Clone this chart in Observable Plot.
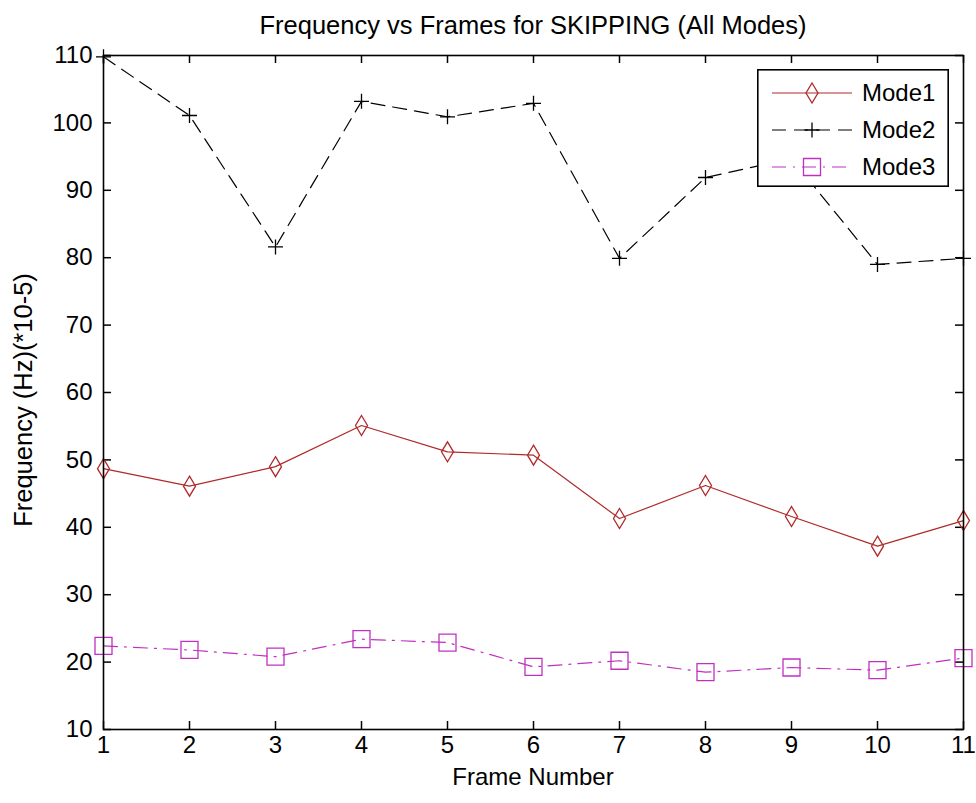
<!DOCTYPE html>
<html>
<head>
<meta charset="utf-8">
<script src="https://cdn.jsdelivr.net/npm/d3@7"></script>
<script src="https://cdn.jsdelivr.net/npm/@observablehq/plot@0.6"></script>
<style>
  body { margin: 0; background: #fff; }
  #wrap { position: relative; width: 976px; height: 803px; background: #fff;
          font-family: "Liberation Sans", Arial, sans-serif; color: #000; }
  #wrap > svg.chart { position: absolute; left: 0; top: 0; }
  .lbl { position: absolute; white-space: nowrap; font-size: 24px; line-height: 1; }
  #title { left: 533px; top: 13px; transform: translateX(-50%); font-size: 25.5px; }
  #xlabel { left: 533px; top: 765px; transform: translateX(-50%); }
  #ylabel { left: 24px; top: 400px; transform: translate(-50%, -50%) rotate(-90deg); font-size: 25.5px; }
  #wrap > svg#legend { position: absolute; left: 757px; top: 69px; }
</style>
</head>
<body>
<div id="wrap">
  <div id="title" class="lbl"></div>
  <div id="xlabel" class="lbl"></div>
  <div id="ylabel" class="lbl"></div>
</div>
<script>
// ---- data ----
const frames = [1, 2, 3, 4, 5, 6, 7, 8, 9, 10, 11];
const mode1 = [48.7, 46.1, 49.0, 55.1, 51.2, 50.7, 41.3, 46.2, 41.6, 37.2, 41.0];
const mode2 = [109.8, 101.1, 81.6, 103.2, 100.9, 102.9, 79.9, 91.9, 94.7, 79.0, 79.9];
const mode3 = [22.4, 21.8, 20.8, 23.4, 22.9, 19.3, 20.2, 18.5, 19.2, 18.8, 20.6];
const seriesNames = ["Mode1", "Mode2", "Mode3"];
const xTicks = [1, 2, 3, 4, 5, 6, 7, 8, 9, 10, 11];
const yTicks = [10, 20, 30, 40, 50, 60, 70, 80, 90, 100, 110];
const titleText = "Frequency vs Frames for SKIPPING (All Modes)";
const xLabelText = "Frame Number";
const yLabelText = "Frequency (Hz)(*10-5)";

// ---- layout & styles ----
const W = 976, H = 803, mT = 55, mB = 74, mL = 103, mR = 13;
const plotW = W - mL - mR, plotH = H - mT - mB, tickLen = 8;
const fontFam = '"Liberation Sans", Arial, sans-serif';
const colors = {Mode1: "#b02a2a", Mode2: "#000000", Mode3: "#c030c0"};
const dashes = {Mode1: null, Mode2: "14,8", Mode3: "14,7,2,7"};

const tallDiamond = {draw(ctx, size) { const r = Math.sqrt(size / Math.PI); const w = r * 0.6;
  ctx.moveTo(0, -r); ctx.lineTo(w, 0); ctx.lineTo(0, r); ctx.lineTo(-w, 0); ctx.closePath(); }};
const thinPlus = {draw(ctx, size) { const r = Math.sqrt(size / Math.PI);
  ctx.moveTo(-r, 0); ctx.lineTo(r, 0); ctx.moveTo(0, -r); ctx.lineTo(0, r); }};
const openSquare = {draw(ctx, size) { const r = Math.sqrt(size / Math.PI);
  ctx.moveTo(-r, -r); ctx.lineTo(r, -r); ctx.lineTo(r, r); ctx.lineTo(-r, r); ctx.closePath(); }};
const symbols = {Mode1: tallDiamond, Mode2: thinPlus, Mode3: openSquare};
const radii = {Mode1: 10, Mode2: 7.5, Mode3: 8.5};

const valuesBySeries = {Mode1: mode1, Mode2: mode2, Mode3: mode3};
const table = seriesNames.map(s => frames.map((f, i) => ({frame: f, value: valuesBySeries[s][i], series: s})));

const marks = [];
table.forEach((rows, k) => {
  const s = seriesNames[k];
  marks.push(Plot.line(rows, {x: "frame", y: "value", stroke: colors[s], strokeWidth: 1.2,
    strokeDasharray: dashes[s] || undefined}));
  marks.push(Plot.dot(rows, {x: "frame", y: "value", symbol: symbols[s], r: radii[s],
    stroke: colors[s], fill: "none", strokeWidth: 1.3}));
});

const chart = Plot.plot({
  width: W, height: H,
  marginTop: mT, marginBottom: mB, marginLeft: mL, marginRight: mR,
  style: {fontSize: "24px", fontFamily: fontFam, color: "#000", background: "transparent"},
  x: {domain: [1, 11], label: null},
  y: {domain: [10, 110], label: null},
  marks: [
    Plot.axisX({anchor: "bottom", ticks: xTicks, tickSize: 0, tickPadding: 6, tickFormat: d => String(d), label: null}),
    Plot.axisY({anchor: "left", ticks: yTicks, tickSize: 0, tickPadding: 11, tickFormat: d => String(d), label: null}),
    // inward ticks on all four sides
    Plot.ruleX(xTicks, {x: d => d, insetTop: plotH - tickLen, stroke: "#000", strokeWidth: 1.5}),
    Plot.ruleX(xTicks, {x: d => d, insetBottom: plotH - tickLen, stroke: "#000", strokeWidth: 1.5}),
    Plot.ruleY(yTicks, {y: d => d, insetRight: plotW - tickLen, stroke: "#000", strokeWidth: 1.5}),
    Plot.ruleY(yTicks, {y: d => d, insetLeft: plotW - tickLen, stroke: "#000", strokeWidth: 1.5}),
    ...marks,
    Plot.frame({stroke: "#000", strokeWidth: 1.6})
  ]
});
chart.classList.add("chart");
const wrap = document.getElementById("wrap");
wrap.insertBefore(chart, wrap.firstChild);
document.getElementById("title").textContent = titleText;
document.getElementById("xlabel").textContent = xLabelText;
document.getElementById("ylabel").textContent = yLabelText;

// ---- legend ----
const lw = 192, lh = 118, rowY = [24, 61, 98];
const leg = d3.select(wrap).append("svg").attr("id", "legend").attr("width", lw).attr("height", lh);
leg.append("rect").attr("x", 0.8).attr("y", 0.8).attr("width", lw - 1.6).attr("height", lh - 1.6)
  .attr("fill", "#fff").attr("stroke", "#000").attr("stroke-width", 1.6);
seriesNames.forEach((s, i) => {
  const g = leg.append("g").attr("transform", `translate(0,${rowY[i]})`);
  g.append("line").attr("x1", 15).attr("x2", 95).attr("y1", 0).attr("y2", 0)
    .attr("stroke", colors[s]).attr("stroke-width", 1.2)
    .attr("stroke-dasharray", dashes[s]);
  const p = d3.path(); symbols[s].draw(p, radii[s] * radii[s] * Math.PI);
  g.append("path").attr("transform", "translate(55,0)").attr("d", p.toString())
    .attr("fill", "none").attr("stroke", colors[s]).attr("stroke-width", 1.3);
  g.append("text").attr("x", 105).attr("y", 0).attr("dy", "0.35em").attr("font-size", 24)
    .attr("font-family", fontFam).text(s);
});
</script>
</body>
</html>
